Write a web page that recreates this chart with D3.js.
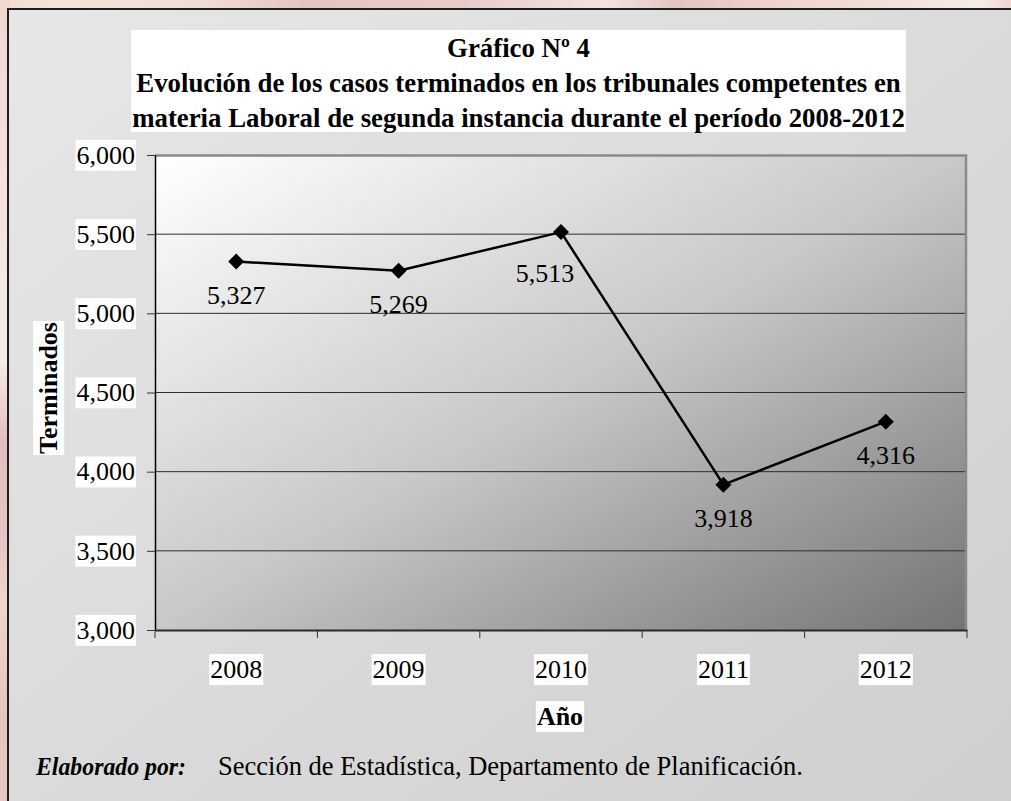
<!DOCTYPE html>
<html>
<head>
<meta charset="utf-8">
<script src="https://cdn.jsdelivr.net/npm/d3@7"></script>
<style>
  body { margin: 0; overflow: hidden; background: #f0dcd6; }
  text { font-family: "Liberation Serif", "Times New Roman", serif; fill: #000; }
</style>
</head>
<body>
<div id="chart"></div>
<script>
// data
var years = ["2008", "2009", "2010", "2011", "2012"];
var terminados = [5327, 5269, 5513, 3918, 4316];
var yTicks = [3000, 3500, 4000, 4500, 5000, 5500, 6000];
var titleLines = [
    "Gráfico Nº 4",
    "Evolución de los casos terminados en los tribunales competentes en",
    "materia Laboral de segunda instancia durante el período 2008-2012"
];
var yTitle = "Terminados";
var xTitle = "Año";
var sourceBold = "Elaborado por:";
var sourceText = "Sección de Estadística, Departamento de Planificación.";

// label moved by hand in the original (dx, dy)
var labelNudge = {"2010": [-16, 8]};

var width = 1011;
var height = 801;
var plot = {left: 155, right: 967, top: 155, bottom: 630};

var svg = d3.select('#chart').append('svg')
    .attr("width", width)
    .attr("height", height);

var defs = svg.append("defs");

function gradient(id, x2, y2, stops) {
    var g = defs.append("linearGradient").attr("id", id)
        .attr("x1", 0).attr("y1", 0).attr("x2", x2).attr("y2", y2);
    stops.forEach(function(s) {
        g.append("stop").attr("offset", s[0]).attr("stop-color", s[1]);
    });
}

// slide background (pink blur around the frame)
gradient("topStrip", 1, 0, [[0, "#f0ddd2"], [0.06, "#f5e4da"], [0.2, "#f2dcd6"], [0.3, "#e4c4c0"],
    [0.45, "#e9cbc8"], [0.6, "#f3e4e0"], [0.67, "#e2c4c0"], [0.75, "#efd0cc"], [0.9, "#f3e2dc"],
    [0.97, "#f6ece8"], [1, "#f0d4d0"]]);
gradient("leftStrip", 0, 1, [[0, "#f0d8d0"], [0.2, "#f3e0dc"], [0.45, "#f6ece8"], [0.55, "#e2bfbc"],
    [0.68, "#e6c6c2"], [0.75, "#efd6cc"], [0.9, "#e6c4c0"], [1, "#e8c8c4"]]);
gradient("frameBg", 1, 1, [[0, "#e7e7e7"], [1, "#cecece"]]);
gradient("plotBg", 1, 1, [[0, "#ffffff"], [0.5, "#c8c8c8"], [1, "#747474"]]);

svg.append("rect").attr("x", 0).attr("y", 0).attr("width", width).attr("height", 12)
    .attr("fill", "url(#topStrip)");
svg.append("rect").attr("x", 0).attr("y", 0).attr("width", 10).attr("height", height)
    .attr("fill", "url(#leftStrip)");

// chart frame
svg.append("rect")
    .attr("x", 8).attr("y", 9)
    .attr("width", width + 20).attr("height", height + 20)
    .attr("fill", "url(#frameBg)")
    .attr("stroke", "#1e1e1e")
    .attr("stroke-width", 2);

var x = d3.scaleBand()
    .domain(years)
    .range([plot.left, plot.right]);

var y = d3.scaleLinear()
    .domain([3000, 6000])
    .range([plot.bottom, plot.top]);

// plot area
svg.append("rect")
    .attr("x", plot.left).attr("y", plot.top)
    .attr("width", plot.right - plot.left)
    .attr("height", plot.bottom - plot.top)
    .attr("fill", "url(#plotBg)");

// gridlines
svg.append("g")
    .selectAll("line")
    .data(yTicks.slice(1, -1))
    .enter()
    .append("line")
    .attr("x1", plot.left).attr("x2", plot.right)
    .attr("y1", function(d) { return y(d); })
    .attr("y2", function(d) { return y(d); })
    .attr("stroke", "#2e2e2e")
    .attr("stroke-width", 1);

// top and right plot border
svg.append("path")
    .attr("d", "M" + plot.left + "," + (plot.top + 0.5) + "H" + (plot.right - 1) + "V" + plot.bottom)
    .attr("fill", "none")
    .attr("stroke", "#8a8a8a")
    .attr("stroke-width", 2.5);

// white box behind a text
function boxBehind(node, pad) {
    var b = node.getBBox();
    d3.select(node.parentNode).insert("rect", function() { return node; })
        .attr("x", b.x - pad).attr("y", b.y - pad)
        .attr("width", b.width + 2 * pad).attr("height", b.height + 2 * pad)
        .attr("fill", "#fff");
}

// y axis
var yAxis = svg.append("g")
    .attr("transform", "translate(" + plot.left + ",0)")
    .call(d3.axisLeft(y)
        .tickValues(yTicks)
        .tickFormat(d3.format(","))
        .tickSize(8)
        .tickSizeOuter(0)
        .tickPadding(12));
yAxis.select(".domain").attr("stroke", "#000").attr("stroke-width", 1.5);
yAxis.selectAll(".tick line").attr("stroke", "#333");
yAxis.selectAll("text")
    .style("font-size", "26px")
    .style("font-family", "Liberation Serif")
    .attr("fill", "#000")
    .each(function() { boxBehind(this, 1); });

// x axis
var xAxis = svg.append("g")
    .attr("transform", "translate(0," + plot.bottom + ")")
    .call(d3.axisBottom(x).tickSize(0).tickSizeOuter(0));
xAxis.select(".domain").attr("stroke", "#2a2a2a").attr("stroke-width", 2);
xAxis.selectAll("text")
    .attr("y", 39)
    .attr("dy", "0.35em")
    .style("font-size", "26px")
    .style("font-family", "Liberation Serif")
    .attr("fill", "#000")
    .each(function() { boxBehind(this, 1); });
xAxis.selectAll(".boundary")
    .data(years.map(function(d) { return x(d); }).concat([x.range()[1]]))
    .enter()
    .append("line")
    .attr("class", "boundary")
    .attr("x1", function(d) { return d; })
    .attr("x2", function(d) { return d; })
    .attr("y1", 0).attr("y2", 8)
    .attr("stroke", "#333");

// line + markers
var pts = years.map(function(d, i) { return {year: d, value: terminados[i]}; });

var line = d3.line()
    .x(function(d) { return x(d.year) + x.bandwidth() / 2; })
    .y(function(d) { return y(d.value); });

svg.append("path")
    .datum(pts)
    .attr("d", line)
    .attr("fill", "none")
    .attr("stroke", "#000")
    .attr("stroke-width", 2.5)
    .attr("stroke-linejoin", "round");

svg.append("g")
    .selectAll("path")
    .data(pts)
    .enter()
    .append("path")
    .attr("d", d3.symbol(d3.symbolSquare, 128))
    .attr("transform", function(d) {
        return "translate(" + (x(d.year) + x.bandwidth() / 2) + "," + y(d.value) + ") rotate(45)";
    })
    .attr("fill", "#000");

// data labels (below)
function nudge(d, k) { return labelNudge[d.year] ? labelNudge[d.year][k] : 0; }
svg.append("g")
    .selectAll("text")
    .data(pts)
    .enter()
    .append("text")
    .attr("x", function(d) { return x(d.year) + x.bandwidth() / 2 + nudge(d, 0); })
    .attr("y", function(d) { return y(d.value) + 33 + nudge(d, 1); })
    .attr("dy", "0.35em")
    .attr("text-anchor", "middle")
    .style("font-size", "26px")
    .attr("fill", "#111")
    .text(function(d) { return d3.format(",")(d.value); });

// title
var title = svg.append("g");
title.selectAll("text")
    .data(titleLines)
    .enter()
    .append("text")
    .attr("x", 518.5)
    .attr("y", function(d, i) { return 57 + i * 35; })
    .attr("text-anchor", "middle")
    .style("font-size", "26.8px")
    .style("font-weight", "bold")
    .text(function(d) { return d; });
var tb = title.node().getBBox();
title.insert("rect", "text")
    .attr("x", tb.x - 1).attr("y", 30)
    .attr("width", tb.width + 2).attr("height", 132 - 30)
    .attr("fill", "#fff");

// axis titles
var yt = svg.append("g")
    .attr("transform", "translate(48,388) rotate(-90)");
yt.append("text")
    .attr("text-anchor", "middle")
    .attr("dy", "0.35em")
    .style("font-size", "26px")
    .style("font-weight", "bold")
    .text(yTitle)
    .each(function() { boxBehind(this, 1); });

var xt = svg.append("g")
    .attr("transform", "translate(560,716)");
xt.append("text")
    .attr("text-anchor", "middle")
    .attr("dy", "0.35em")
    .style("font-size", "26px")
    .style("font-weight", "bold")
    .text(xTitle)
    .each(function() { boxBehind(this, 1); });

// source note
svg.append("text")
    .attr("x", 36).attr("y", 775)
    .style("font-size", "26px")
    .style("font-weight", "bold")
    .style("font-style", "italic")
    .attr("textLength", 150)
    .attr("lengthAdjust", "spacingAndGlyphs")
    .text(sourceBold);
svg.append("text")
    .attr("x", 218).attr("y", 775)
    .style("font-size", "26.5px")
    .text(sourceText);
</script>
</body>
</html>
